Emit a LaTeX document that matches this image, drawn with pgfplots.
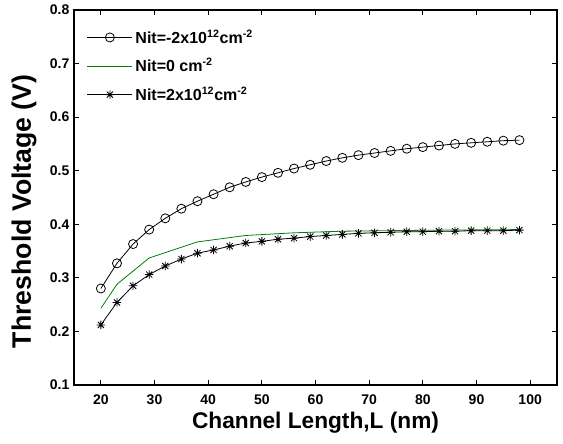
\documentclass[border=0pt]{standalone}
\usepackage{fontspec}
\setmainfont{Liberation Sans}
\usepackage{pgfplots}
\pgfplotsset{compat=1.18}
\definecolor{mgreen}{RGB}{0,128,0}
\pgfdeclareplotmark{mstar}{%
  \pgfpathmoveto{\pgfqpoint{0pt}{\pgfplotmarksize}}\pgfpathlineto{\pgfqpoint{0pt}{-\pgfplotmarksize}}%
  \pgfpathmoveto{\pgfqpoint{\pgfplotmarksize}{0pt}}\pgfpathlineto{\pgfqpoint{-\pgfplotmarksize}{0pt}}%
  \pgfpathmoveto{\pgfqpoint{0.72\pgfplotmarksize}{0.72\pgfplotmarksize}}\pgfpathlineto{\pgfqpoint{-0.72\pgfplotmarksize}{-0.72\pgfplotmarksize}}%
  \pgfpathmoveto{\pgfqpoint{0.72\pgfplotmarksize}{-0.72\pgfplotmarksize}}\pgfpathlineto{\pgfqpoint{-0.72\pgfplotmarksize}{0.72\pgfplotmarksize}}%
  \pgfusepathqstroke}
\begin{document}
\begin{tikzpicture}
\begin{axis}[
  scale only axis,
  width=362pt, height=281pt,
  xmin=15, xmax=105, ymin=0.1, ymax=0.8,
  xtick={20,30,...,100},
  ytick={0.1,0.2,0.3,0.4,0.5,0.6,0.7,0.8},
  yticklabel style={/pgf/number format/.cd, fixed, precision=1, fixed zerofill},
  /pgf/number format/assume math mode=true,
  tick align=inside,
  major tick length=3.75pt,
  minor tick num=0,
  axis line style={line width=1.1pt},
  every tick/.style={black, line width=0.8pt},
  ticklabel style={font=\bfseries\fontsize{10.5}{12}\selectfont},
  xticklabel style={yshift=-3.5pt},
  xlabel={Channel Length,L (nm)},
  ylabel={Threshold Voltage (V)},
  xlabel style={font=\bfseries\fontsize{17}{20}\selectfont, at={(axis description cs:0.5,-0.1014)}, anchor=center},
  ylabel style={font=\bfseries\fontsize{20}{23}\selectfont, at={(axis description cs:-0.1036,0.463)}, anchor=center},
  legend style={at={(axis description cs:0.0262,0.955)}, anchor=north west, draw=none, fill=none,
    font=\bfseries\fontsize{12}{14}\selectfont, row sep=6pt, inner xsep=0pt, inner ysep=0pt},
  legend cell align=left,
  legend image code/.code={\draw[mark repeat=2,mark phase=2] plot coordinates {(0pt,0pt) (16.9pt,0pt) (33.75pt,0pt)};},
]
\addplot[black, line width=0.6pt, mark=o, mark size=3.4pt, mark options={line width=0.6pt}] coordinates {
(20,0.280) (23,0.327) (26,0.363) (29,0.390) (32,0.411) (35,0.429) (38,0.443) (41,0.456) (44,0.469)
(47,0.479) (50,0.488) (53,0.496) (56,0.504) (59,0.511) (62,0.518) (65,0.524) (68,0.529) (71,0.533)
(74,0.537) (77,0.541) (80,0.544) (83,0.547) (86,0.550) (89,0.552) (92,0.554) (95,0.556) (98,0.557)};
\addlegendentry{Nit=-2x10\textsuperscript{12}cm\textsuperscript{-2}}
\addplot[mgreen, line width=0.6pt] coordinates {
(20,0.243) (23,0.288) (29,0.337) (38,0.367) (47,0.379) (56,0.384) (65,0.387) (74,0.388) (83,0.389) (98,0.390)};
\addlegendentry{Nit=0 cm\textsuperscript{-2}}
\addplot[black, line width=0.6pt, mark=mstar, mark size=3.2pt, mark options={line width=0.6pt}] coordinates {
(20,0.212) (23,0.254) (26,0.285) (29,0.306) (32,0.322) (35,0.335) (38,0.346) (41,0.352) (44,0.359)
(47,0.365) (50,0.368) (53,0.372) (56,0.374) (59,0.377) (62,0.379) (65,0.381) (68,0.383) (71,0.384)
(74,0.385) (77,0.386) (80,0.386) (83,0.387) (86,0.387) (89,0.388) (92,0.388) (95,0.388) (98,0.389)};
\addlegendentry{Nit=2x10\textsuperscript{12}cm\textsuperscript{-2}}
\end{axis}
\pgfresetboundingbox
\path ([xshift=-55.5pt,yshift=-44.25pt]current axis.south west) rectangle ([xshift=4.5pt,yshift=7.5pt]current axis.north east);
\end{tikzpicture}
\end{document}
